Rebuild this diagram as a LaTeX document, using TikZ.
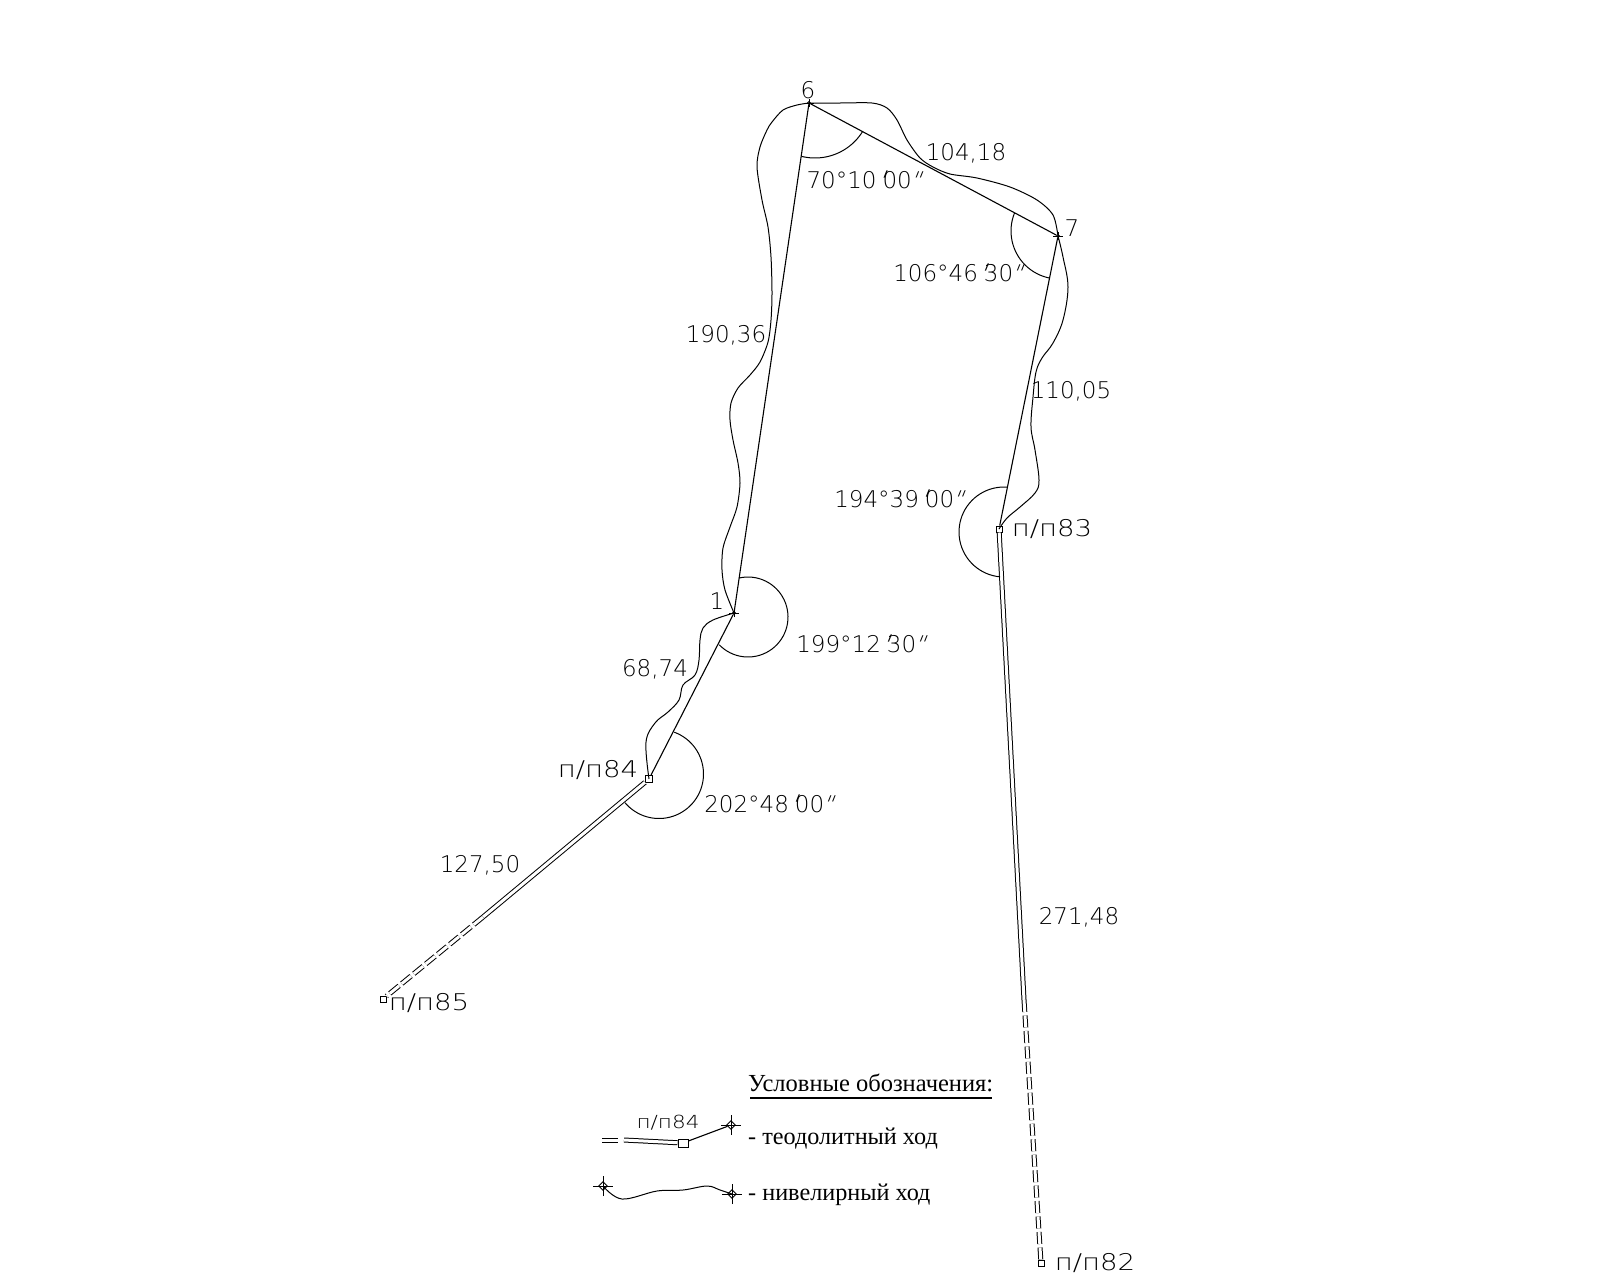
\documentclass[tikz,border=0pt]{standalone}
\usepackage{fontspec}
\usetikzlibrary{shapes.geometric}
\setmainfont{Liberation Serif}
\newfontfamily\cad{DejaVu Sans ExtraLight}
\newfontfamily\cadsl[FakeSlant=0.4]{DejaVu Sans ExtraLight}
\newcommand\myminute{\kern-1pt\raisebox{-2pt}{\fontsize{27}{27}\selectfont\cadsl '}\kern-.5pt}
\newcommand\mysecond{\kern-3pt{\cadsl "}}
\newcommand\pp[1]{\scalebox{1.2}[1]{#1}}
\tikzset{
  every picture/.style={x=1pt,y=-1pt},
  wire/.style={line width=1.1pt,black,line join=round},
  trav/.style={wire},
  curve/.style={wire,line width=1pt},
  arcline/.style={wire,line width=1pt},
  dbl/.style={line width=1pt,double=white,double distance=3pt,black},
  dbld/.style={dbl,dash pattern=on 12pt off 3.5pt},
  sq/.style={draw=black,line width=1pt,rectangle,minimum size=7pt,inner sep=0pt,fill=white},
  pt/.style={draw=black,circle,line width=.8pt,minimum size=3pt,inner sep=0pt},
  cadl/.style={font=\cad\fontsize{23}{23}\selectfont,inner sep=0pt,text=black},
  cadsm/.style={font=\cad\fontsize{18}{18}\selectfont,inner sep=0pt,text=black},
  leg/.style={font=\fontsize{24.5}{24.5}\selectfont,inner sep=0pt,anchor=west,text=black},
  legb/.style={leg,font=\fontsize{24.2}{24.2}\selectfont},
  legpt/.style={draw=black,diamond,aspect=1,line width=.9pt,minimum size=9pt,inner sep=0pt},
}
\begin{document}
\begin{tikzpicture}
\useasboundingbox (0,0) rectangle (1600,1280);
\fill[white] (0,0) rectangle (1600,1280);
% stations
\node[pt] (s6) at (809,103) {};
\node[pt] (s7) at (1058,236) {};
\node[pt] (s1) at (734,613) {};
\node[sq] (s84) at (649,779) {};
\node[sq,minimum size=6pt] (s83) at (999,529) {};
\node[sq,minimum size=6pt] (s82) at (1041,1263) {};
\node[sq,minimum size=6pt] (s85) at (383,999) {};
\coordinate (m84) at (483,917);
\coordinate (m83) at (1024,1000);
% crosses
\foreach \n in {s6,s7,s1}{
  \draw[line width=.8pt] ([xshift=-5pt]\n.center) -- ([xshift=5pt]\n.center);
  \draw[line width=.8pt] ([yshift=-4pt]\n.center) -- ([yshift=4pt]\n.center);
}
% traverse
\draw[trav] (s84) -- (s1) -- (s6) -- (s7) -- (s83);
\draw[dbl] (s84) -- (m84);
\draw[dbld] (m84) -- (s85);
\draw[dbl] (s83) -- (m83);
\draw[dbld] (m83) -- (s82);
% levelling curves
\draw[curve] plot[smooth,tension=.5] coordinates {(s6) (797,105) (783,110) (772,122) (767,130) (760,147) (757,167) (762,200) (768,227) (771,257) (772,293) (771,320) (768,342) (760,362) (750,375) (738,388) (731,403) (730,420) (733,440) (738,463) (740,483) (737,507) (730,527) (723,548) (722,570) (725,590) (s1)};
\draw[curve] plot[smooth,tension=.6] coordinates {(s1) (713,620) (703,628) (700,640) (699,660) (695,675) (683,685) (679,700) (668,712) (655,723) (646,742) (s84)};
\draw[curve] plot[smooth,tension=.5] coordinates {(s6) (840,103) (872,103) (887,108) (897,120) (907,140) (920,158) (933,167) (950,174) (977,178) (1010,187) (1037,200) (1053,215) (s7)};
\draw[curve] plot[smooth,tension=.6] coordinates {(s7) (1063,257) (1068,287) (1063,320) (1053,343) (1042,358) (1036,372) (1033,397) (1031,427) (1035,450) (1039,480) (1035,493) (1020,507) (1007,518) (s83)};
% angle arcs
\draw[arcline] plot[smooth,domain=32:104,samples=25] ({815+56*cos(\x)},{102+56*sin(\x)});
\draw[arcline] plot[smooth,domain=101:202,samples=25] ({1059+48*cos(\x)},{231+48*sin(\x)});
\draw[arcline] plot[smooth,domain=-265:-85,samples=40] ({1004+45*cos(\x)},{532+45*sin(\x)});
\draw[arcline] plot[smooth,domain=-103:136,samples=50] ({748+40*cos(\x)},{617+40*sin(\x)});
\draw[arcline] plot[smooth,domain=-70:140,samples=50] ({659+44.5*cos(\x)},{774+44.5*sin(\x)});
% labels
\node[cadl] (l6) at (808,90) {6};
\node[cadl] (l7) at (1072,228) {7};
\node[cadl] (l1) at (717,601) {1};
\node[cadl] (d1) at (966,153) {104,18};
\node[cadl] (a6) at (863,181) {70°10\myminute00\mysecond};
\node[cadl] (a7) at (957,274) {106°46\myminute30\mysecond};
\node[cadl] (d2) at (726,335) {190,36};
\node[cadl] (d3) at (655,669) {68,74};
\node[cadl] (n84) at (598,770) {\pp{п/п84}};
\node[cadl] (a1) at (860,645) {199°12\myminute30\mysecond};
\node[cadl] (a84) at (768,805) {202°48\myminute00\mysecond};
\node[cadl] (d4) at (480,865) {127,50};
\node[cadl] (n85) at (429,1003) {\pp{п/п85}};
\node[cadl] (n83) at (1052,529) {\pp{п/п83}};
\node[cadl] (n82) at (1095,1263) {\pp{п/п82}};
\node[cadl] (d5) at (1079,917) {271,48};
\node[cadl] (d6) at (1071,391) {110,05};
\node[cadl] (a83) at (898,500) {194°39\myminute00\mysecond};
% legend
\node[leg] (lt) at (748,1083) {Условные обозначения:};
\coordinate (ula) at (750,1098);
\coordinate (ulb) at (992,1098);
\draw[wire] (ula) -- (ulb);
\node[legb] (lt1) at (748,1139) {- теодолитный ход};
\node[legb] (lt2) at (748,1195) {- нивелирный ход};
\node[sq,minimum width=10pt,minimum height=8pt] (ls) at (683,1143) {};
\node[legpt] (lp1) at (731,1125) {};
\node[legpt] (lp2) at (603,1186) {};
\node[legpt] (lp3) at (732,1194) {};
\foreach \n in {lp1,lp2,lp3}{
  \draw[line width=.8pt] ([xshift=-10pt]\n.center) -- ([xshift=10pt]\n.center);
  \draw[line width=.8pt] ([yshift=-10pt]\n.center) -- ([yshift=10pt]\n.center);
}
\coordinate (la) at (602,1140);
\coordinate (lb) at (618,1140);
\coordinate (lc) at (624,1140);
\draw[dbl] (la) -- (lb);
\draw[dbl] (lc) -- (ls);
\draw[trav] (ls) -- (lp1);
\draw[curve] plot[smooth,tension=.6] coordinates {(lp2) (622,1199) (657,1191) (683,1190) (707,1186) (720,1190) (lp3)};
\node[cadsm] (ln) at (668,1123) {\pp{п/п84}};
\end{tikzpicture}
\end{document}
